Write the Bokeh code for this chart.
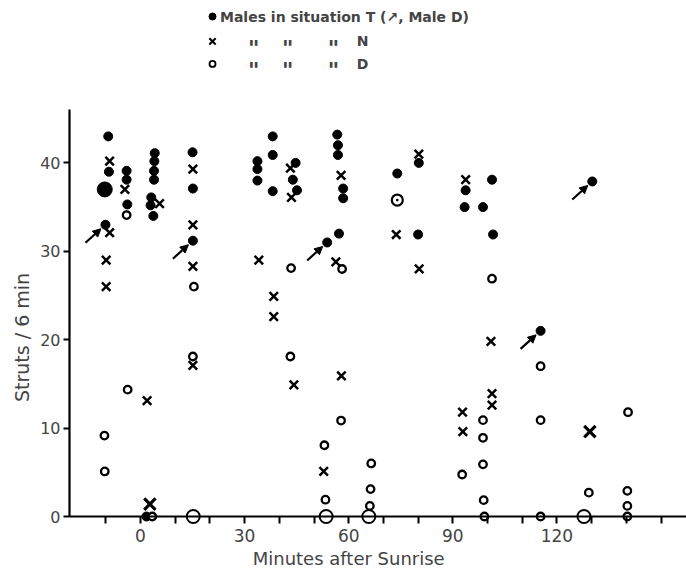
from bokeh.plotting import figure
from bokeh.models import Range1d, FixedTicker, Arrow, NormalHead, Label, ColumnDataSource
from bokeh.embed import file_html
from bokeh.resources import INLINE

# ---- data (minutes after sunrise, struts / 6 min) ----
# situation T (filled dots)
t_x = [-9.3, -9.1, -10.1, -4.0, -4.0, -3.8, 4.1, 4.0, 3.9, 3.9, 3.1, 2.9, 3.7,
       15.0, 15.1, 15.1, 33.7, 33.7, 33.7, 38.1, 38.1, 38.1, 44.7, 43.9, 45.1,
       56.7, 56.9, 56.9, 58.4, 58.4, 57.2, 53.8, 74.0, 80.2, 80.0, 93.7, 93.4,
       98.7, 101.3, 101.6, 115.3, 130.2, 1.7]
t_y = [43.0, 39.0, 33.0, 39.1, 38.1, 35.3, 41.1, 40.2, 39.1, 38.1, 36.1, 35.2, 34.0,
       41.2, 37.1, 31.2, 40.2, 39.3, 38.0, 43.0, 40.9, 36.8, 40.0, 38.1, 36.9,
       43.2, 42.0, 40.9, 37.1, 36.0, 32.0, 31.0, 38.8, 40.0, 31.9, 36.9, 35.0,
       35.0, 38.1, 31.9, 21.0, 37.9, 0.0]
t_big_x = [-10.3]
t_big_y = [37.0]
# Male D (arrowed dots in situation T)
maled_x = [-10.1, 15.1, 53.8, 115.3, 130.2]
maled_y = [33.0, 31.2, 31.0, 21.0, 37.9]

# situation N (crosses)
n_x = [-8.9, -8.9, -9.9, -9.9, -4.5, 5.5, 1.9, 15.1, 15.1, 15.1, 15.1, 34.1,
       38.4, 38.4, 43.2, 43.5, 44.2, 57.8, 56.3, 57.9, 52.8, 73.7, 80.2, 80.3,
       93.7, 92.8, 92.9, 101.0, 101.3, 101.3]
n_y = [40.2, 32.1, 29.0, 26.0, 37.0, 35.4, 13.1, 39.3, 33.0, 28.3, 17.1, 29.0,
       24.9, 22.6, 39.4, 36.1, 14.9, 38.6, 28.8, 15.9, 5.1, 31.9, 41.0, 28.0,
       38.1, 11.8, 9.6, 19.8, 13.9, 12.6]
n_big_x = [2.7, 129.5]
n_big_y = [1.4, 9.6]

# situation D (open circles)
d_x = [-10.4, -10.3, -4.0, -3.7, 3.4, 15.4, 15.1, 43.4, 43.2, 58.1, 57.8, 53.0,
       53.3, 66.5, 66.3, 66.1, 92.7, 101.3, 98.7, 98.7, 98.7, 98.9, 99.1,
       115.3, 115.3, 115.3, 129.2, 140.5, 140.3, 140.3, 140.3]
d_y = [9.15, 5.1, 34.1, 14.35, 0.0, 26.0, 18.1, 28.1, 18.1, 28.0, 10.85, 8.06,
       1.9, 6.0, 3.1, 1.2, 4.75, 26.9, 10.9, 8.9, 5.9, 1.85, 0.0,
       17.0, 10.9, 0.0, 2.7, 11.8, 2.9, 1.2, 0.0]
d_big_x = [15.2, 53.5, 65.8, 127.8]
d_big_y = [0.0, 0.0, 0.0, 0.0]
# T and D coinciding
td_x = [74.0]
td_y = [35.8]

x_ticks = [0, 30, 60, 90, 120]
x_minor = [-10, 10, 20, 40, 50, 70, 80, 100, 110, 130, 140, 150]
y_ticks = [0, 10, 20, 30, 40]

# ---- layout (the frame covers the whole canvas; axes sit at fixed locations) ----
W, H = 686, 577
PX_X, PX_Y = 3.47, 8.84          # pixels per minute / per strut
X0, X1 = -140 / PX_X, (W - 140) / PX_X
Y0, Y1 = -(H - 516) / PX_Y, 516 / PX_Y
XAXIS_LEFT = -71 / PX_X          # where the vertical axis stands
FONT = "DejaVu Sans"

p = figure(width=W, height=H, output_backend="svg", toolbar_location=None,
           x_range=Range1d(X0, X1), y_range=Range1d(Y0, Y1),
           min_border_left=0, min_border_right=0, min_border_top=0, min_border_bottom=0)
p.outline_line_color = None
p.grid.visible = False
p.background_fill_color = "white"
p.border_fill_color = "white"

# axes
xa = p.xaxis[0]
xa.fixed_location = 0
xa.bounds = (XAXIS_LEFT, X1)
xa.ticker = FixedTicker(ticks=x_ticks, minor_ticks=x_minor)
xa.axis_line_width = 2.2
xa.major_tick_line_width = 2
xa.minor_tick_line_width = 2
xa.major_tick_in = 0
xa.major_tick_out = 7
xa.minor_tick_in = 0
xa.minor_tick_out = 7
xa.major_label_text_font = FONT
xa.major_label_text_font_size = "17px"
xa.major_label_standoff = 5

ya = p.yaxis[0]
ya.fixed_location = XAXIS_LEFT
ya.bounds = (0, 46)
ya.ticker = FixedTicker(ticks=y_ticks)
ya.axis_line_width = 2.2
ya.major_tick_line_width = 2
ya.major_tick_in = 0
ya.major_tick_out = 6
ya.minor_tick_line_color = None
ya.major_label_text_font = FONT
ya.major_label_text_font_size = "16px"
ya.major_label_standoff = 3

# axis titles
p.add_layout(Label(x=60, y=-4.75, text="Minutes after Sunrise", text_font=FONT,
                   text_font_size="18px", text_align="center", text_baseline="middle"))
p.add_layout(Label(x=-34.15, y=20.25, text="Struts / 6 min", text_font=FONT, angle=90,
                   angle_units="deg", text_font_size="19px", text_align="center",
                   text_baseline="middle"))

# marks
p.scatter(t_x, t_y, marker="circle", size=9, color="black")
p.scatter(t_big_x, t_big_y, marker="circle", size=15, color="black")
p.scatter(n_x, n_y, marker="x", size=12, line_color="black", line_width=2.5)
p.scatter(n_big_x, n_big_y, marker="x", size=16, line_color="black", line_width=3.2)
p.scatter(d_x, d_y, marker="circle", size=7.5, fill_color="white", line_color="black", line_width=2.3)
p.scatter(d_big_x, d_big_y, marker="circle", size=13, fill_color="white", line_color="black", line_width=2)
p.scatter(td_x, td_y, marker="circle_dot", size=11, fill_color="white", line_color="black", line_width=2.2)

# arrows for Male D
src = ColumnDataSource(dict(
    xs=[x - 20 / PX_X for x in maled_x], ys=[y - 18 / PX_Y for y in maled_y],
    xe=[x - 4.5 / PX_X for x in maled_x], ye=[y - 4.0 / PX_Y for y in maled_y]))
p.add_layout(Arrow(end=NormalHead(size=8, fill_color="black", line_color="black", line_width=1),
                   x_start="xs", y_start="ys", x_end="xe", y_end="ye",
                   source=src, line_width=2.2, line_color="black"))

# legend (custom, as in the original)
LX, LT = 20.75, 22.9
rows = [56.56, 53.75, 51.2]
p.scatter([LX], [rows[0]], marker="circle", size=7, color="black")
p.scatter([LX], [rows[1]], marker="x", size=9, line_color="black", line_width=2)
p.scatter([LX], [rows[2]], marker="circle", size=6, fill_color="white", line_color="black", line_width=1.8)
p.add_layout(Label(x=LT, y=rows[0], text="Males in situation T (\u2197, Male D)", text_font=FONT,
                   text_font_size="14px", text_font_style="bold", text_baseline="middle"))
ditto_x = [32.6, 42.4, 55.6]
for r, letter in ((rows[1], "N"), (rows[2], "D")):
    for dx in ditto_x:
        p.add_layout(Label(x=dx, y=r - 0.8, text='"', text_font=FONT, text_font_size="22px",
                           text_font_style="bold", text_baseline="middle", text_align="center"))
    p.add_layout(Label(x=64.0, y=r, text=letter, text_font=FONT, text_font_size="14px",
                       text_font_style="bold", text_baseline="middle", text_align="center"))

open("out.html", "w").write(file_html(p, INLINE))
